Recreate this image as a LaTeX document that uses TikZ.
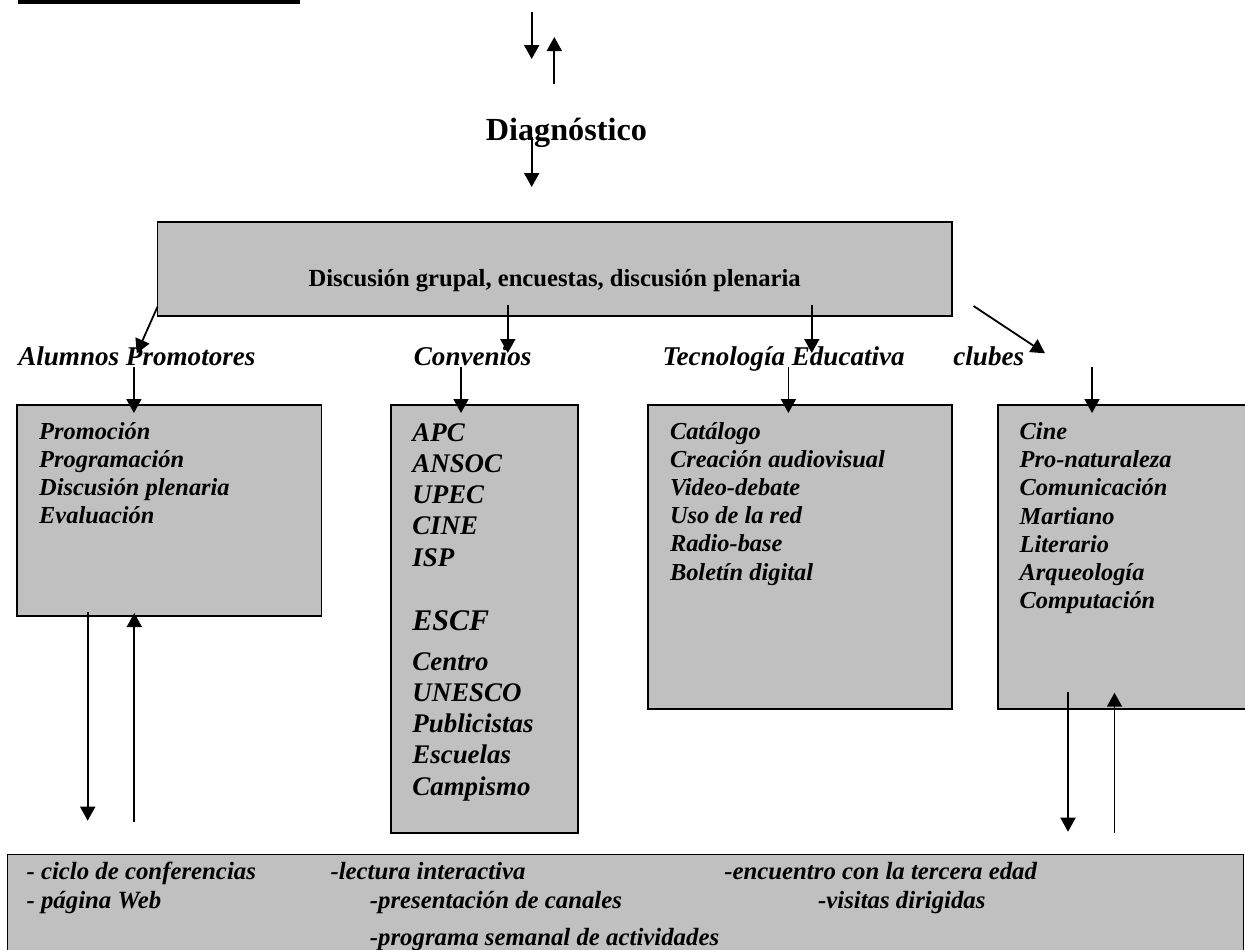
\documentclass[tikz,border=0pt]{standalone}
\usepackage{fontspec}
\setmainfont{Liberation Serif}
\usetikzlibrary{arrows.meta}
\definecolor{boxgray}{RGB}{192,192,192}

\begin{document}
\begin{tikzpicture}[x=0.5pt,y=-0.5pt,line width=0.9pt,
  >={Triangle[length=7pt,width=7.5pt]},
  box/.style={draw,fill=boxgray},
  txt/.style={anchor=base west,inner sep=0pt},
  lbl/.style={txt,font=\fontsize{13.55}{16}\selectfont\bfseries\itshape},
  item/.style={txt,align=left,font=\fontsize{12.2}{14.05}\selectfont\bfseries\itshape},
  bigitem/.style={txt,align=left,font=\fontsize{13.45}{15.6}\selectfont\bfseries\itshape},
  lowitem/.style={txt,font=\fontsize{12.4}{14}\selectfont\bfseries\itshape}]
  \clip (0,0) rectangle (1245,949);
  \fill (18,0) rectangle (300,4);
  \coordinate (t1) at (531.7,12);
  \coordinate (t2) at (531.7,59);
  \draw [->] (t1) -- (t2);
  \coordinate (t3) at (554.3,84);
  \coordinate (t4) at (554.3,37);
  \draw [->] (t3) -- (t4);
  \node [txt,font=\fontsize{16.1}{19}\selectfont\bfseries] (diag) at (485,140) {Diagnóstico};
  \coordinate (t5) at (531.7,137);
  \coordinate (t6) at (531.7,187);
  \draw [->] (t5) -- (t6);
  \coordinate (m1) at (157.5,221.7);
  \coordinate (m2) at (951.7,315.7);
  \draw [box] (m1) rectangle (m2);
  \node [anchor=base,inner sep=0pt,font=\fontsize{12.3}{14}\selectfont\bfseries] (disc) at (554.6,286.7) {Discusión grupal, encuestas, discusión plenaria};
  \coordinate (a1) at (157.5,306.7);
  \coordinate (a2) at (136.8,353.3);
  \draw [->] (a1) -- (a2);
  \coordinate (c1) at (507.8,305);
  \coordinate (c2) at (507.8,353);
  \draw [->] (c1) -- (c2);
  \coordinate (e1) at (811.8,305);
  \coordinate (e2) at (811.8,353);
  \draw [->] (e1) -- (e2);
  \coordinate (k1) at (973.5,306);
  \coordinate (k2) at (1045,353.3);
  \draw [->] (k1) -- (k2);
  \node [lbl] (alumnos) at (17.4,365) {Alumnos Promotores};
  \node [lbl] (convenios) at (413,365) {Convenios};
  \node [lbl] (tecno) at (661.7,365) {Tecnología Educativa};
  \node [lbl] (clubes) at (952.5,365) {clubes};
  \draw [box] (17.2,405) rectangle (321.4,615.7);
  \draw [box] (391,405) rectangle (578.3,832.7);
  \draw [box] (648,405) rectangle (951.7,709);
  \draw [box] (998.2,405) rectangle (1265,709);
  \coordinate (a3) at (133.9,367);
  \coordinate (a4) at (133.9,413);
  \draw [->] (a3) -- (a4);
  \coordinate (c3) at (461,367);
  \coordinate (c4) at (461,413);
  \draw [->] (c3) -- (c4);
  \coordinate (e3) at (788.4,367);
  \coordinate (e4) at (788.4,413);
  \draw [->] (e3) -- (e4);
  \coordinate (k3) at (1092,367);
  \coordinate (k4) at (1092,413);
  \draw [->] (k3) -- (k4);
  \node [item] (alumnoslist) at (38.3,523.5) {Promoción\\Programación\\Discusión plenaria\\Evaluación};
  \node [bigitem] (conveniosa) at (411.5,566) {APC\\ANSOC\\UPEC\\CINE\\ISP};
  \node [txt,font=\fontsize{15}{18}\selectfont\bfseries\itshape] (escf) at (411.5,630) {ESCF};
  \node [bigitem] (conveniosb) at (411.5,795) {Centro\\UNESCO\\Publicistas\\Escuelas\\Campismo};
  \node [item] (tecnolist) at (669.1,580) {Catálogo\\Creación audiovisual\\Video-debate\\Uso de la red\\Radio-base\\Boletín digital};
  \node [item] (clubeslist) at (1018.8,608.3) {Cine\\Pro-naturaleza\\Comunicación\\Martiano\\Literario\\Arqueología\\Computación};
  \coordinate (a5) at (87.7,612);
  \coordinate (a6) at (87.7,820.7);
  \draw [->] (a5) -- (a6);
  \coordinate (a7) at (134.3,822);
  \coordinate (a8) at (134.3,613);
  \draw [->] (a7) -- (a8);
  \coordinate (k5) at (1068,691.7);
  \coordinate (k6) at (1068,831.7);
  \draw [->] (k5) -- (k6);
  \coordinate (k7) at (1114.5,832.7);
  \coordinate (k8) at (1114.5,692.7);
  \draw [->] (k7) -- (k8);
  \draw [box] (7.5,854.5) rectangle (1243.5,970);
  \node [lowitem] (ciclo) at (25.7,879.3) {- ciclo de conferencias};
  \node [lowitem] (pagina) at (25.7,908.3) {- página Web};
  \node [lowitem] (lectura) at (329.6,879.3) {-lectura interactiva};
  \node [lowitem] (canales) at (369,908.3) {-presentación de canales};
  \node [lowitem] (programa) at (369,945) {-programa semanal de actividades};
  \node [lowitem] (encuentro) at (723.4,879.3) {-encuentro con la tercera edad};
  \node [lowitem] (visitas) at (817.2,908.3) {-visitas dirigidas};
\end{tikzpicture}
\end{document}
